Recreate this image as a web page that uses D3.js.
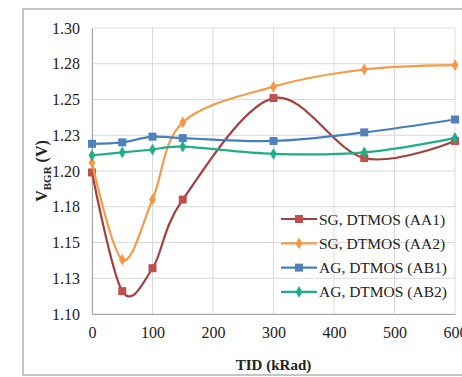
<!DOCTYPE html>
<html>
<head>
<meta charset="utf-8">
<script src="https://cdn.jsdelivr.net/npm/d3@7"></script>
<style>
    body { margin: 0; background: #fff; }
    svg { display: block; font-family: "Liberation Serif", "Times New Roman", serif; }
</style>
</head>
<body>
<div id="chart"></div>
<script>
const tid = [0, 50, 100, 150, 300, 450, 600];
const aa1 = [1.199, 1.116, 1.132, 1.180, 1.251, 1.209, 1.221];
const aa2 = [1.206, 1.138, 1.180, 1.234, 1.259, 1.271, 1.274];
const ab1 = [1.219, 1.220, 1.224, 1.223, 1.221, 1.227, 1.236];
const ab2 = [1.211, 1.213, 1.215, 1.217, 1.212, 1.213, 1.223];
const yTicks = [1.100, 1.125, 1.150, 1.175, 1.200, 1.225, 1.250, 1.275, 1.300];
const xTicks = [0, 100, 200, 300, 400, 500, 600];

const series = [
    { name: "SG, DTMOS (AA1)", values: aa1, line: "#a3403f", marker: "#c0504d", shape: "square" },
    { name: "SG, DTMOS (AA2)", values: aa2, line: "#f59a45", marker: "#f79646", shape: "diamond" },
    { name: "AG, DTMOS (AB1)", values: ab1, line: "#4a7ebb", marker: "#4f81bd", shape: "square" },
    { name: "AG, DTMOS (AB2)", values: ab2, line: "#1fae8a", marker: "#1fae8a", shape: "diamond" }
];

const width = 462, height = 377;
const margin = { top: 28, right: 7, bottom: 63, left: 92 };
const innerW = width - margin.left - margin.right;
const innerH = height - margin.top - margin.bottom;

const svg = d3.select("#chart").append("svg")
    .attr("width", width)
    .attr("height", height);

// outer frame
svg.append("rect")
    .attr("x", 23).attr("y", 9)
    .attr("width", 460).attr("height", 366)
    .attr("fill", "none")
    .attr("stroke", "#c4c4c4")
    .attr("stroke-width", 2);

const g = svg.append("g")
    .attr("transform", `translate(${margin.left},${margin.top})`);

const x = d3.scaleLinear().domain([0, 600]).range([0, innerW]);
const y = d3.scaleLinear().domain([1.1, 1.3]).range([innerH, 0]);

// grid
g.append("g")
    .selectAll("line.h")
    .data(yTicks)
    .enter().append("line")
    .attr("x1", 0).attr("x2", innerW)
    .attr("y1", d => y(d)).attr("y2", d => y(d))
    .attr("stroke", "#d9d9d9");

g.append("g")
    .selectAll("line.v")
    .data(xTicks)
    .enter().append("line")
    .attr("y1", 0).attr("y2", innerH)
    .attr("x1", d => x(d)).attr("x2", d => x(d))
    .attr("stroke", "#d9d9d9");

// axes (labels rounded like the spreadsheet does: 1.275 -> 1.28)
const yAxis = g.append("g")
    .call(d3.axisLeft(y).tickValues(yTicks).tickSize(0).tickPadding(12)
        .tickFormat(d => (d + 1e-9).toFixed(2)));
yAxis.select(".domain").attr("stroke", "#a6a6a6");
yAxis.selectAll("text").style("font-size", "16px").attr("fill", "#222").style("font-family", "Liberation Serif");

const xAxis = g.append("g")
    .attr("transform", `translate(0,${innerH})`)
    .call(d3.axisBottom(x).tickValues(xTicks).tickSize(0).tickPadding(13));
xAxis.select(".domain").attr("stroke", "#a6a6a6");
xAxis.selectAll("text").style("font-size", "16px").attr("fill", "#222").style("font-family", "Liberation Serif");

// axis titles
const yTitle = svg.append("text")
    .attr("transform", `translate(47,${margin.top + innerH / 2}) rotate(-90)`)
    .attr("text-anchor", "middle")
    .style("font-size", "16px")
    .style("font-weight", "bold")
    .attr("fill", "#222");
yTitle.append("tspan").text("V");
yTitle.append("tspan").attr("dy", 4).style("font-size", "11px").text("BGR");
yTitle.append("tspan").attr("dy", -4).text(" (V)");

svg.append("text")
    .attr("x", margin.left + innerW / 2)
    .attr("y", 370)
    .attr("text-anchor", "middle")
    .style("font-size", "15px")
    .style("font-weight", "bold")
    .attr("fill", "#222")
    .text("TID (kRad)");

const line = d3.line()
    .x((d, i) => x(tid[i]))
    .y(d => y(d))
    .curve(d3.curveCardinal);

const symSquare = d3.symbol().type(d3.symbolSquare).size(64);
const symDiamond = d3.symbol().type(d3.symbolDiamond).size(40);

series.forEach(s => {
    g.append("path")
        .datum(s.values)
        .attr("d", line)
        .attr("fill", "none")
        .attr("stroke", s.line)
        .attr("stroke-width", 2.2);

    g.selectAll(null)
        .data(s.values)
        .enter().append("path")
        .attr("transform", (d, i) => `translate(${x(tid[i])},${y(d)})`)
        .attr("d", s.shape === "square" ? symSquare() : symDiamond())
        .attr("fill", s.marker);
});

// legend
const legend = svg.append("g").attr("transform", "translate(281,219)");
series.forEach((s, i) => {
    const row = legend.append("g").attr("transform", `translate(0,${i * 24.3})`);
    row.append("line")
        .attr("x1", 0).attr("x2", 36)
        .attr("stroke", s.line)
        .attr("stroke-width", 2.2);
    row.append("path")
        .attr("transform", "translate(18,0)")
        .attr("d", s.shape === "square" ? symSquare() : symDiamond())
        .attr("fill", s.marker);
    row.append("text")
        .attr("x", 38)
        .attr("y", 5.5)
        .style("font-size", "15.5px")
        .attr("fill", "#222")
        .text(s.name);
});
</script>
</body>
</html>
